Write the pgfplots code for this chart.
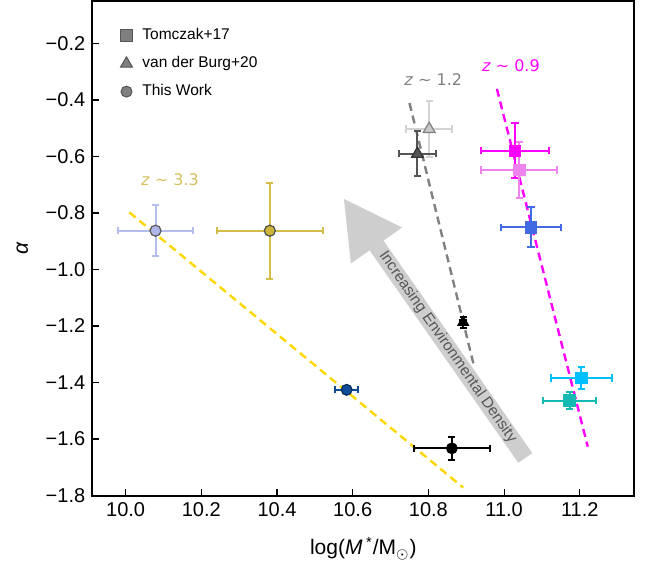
\documentclass[border=0pt]{standalone}
\usepackage{pgfplots}
\pgfplotsset{compat=1.18}
\usepackage{fontspec}
\setmainfont{Liberation Sans}
\newfontfamily\dejavu{DejaVu Sans}
\usetikzlibrary{arrows.meta}
\definecolor{mag}{HTML}{FF00FF}
\definecolor{vio}{HTML}{EE82EE}
\definecolor{royal}{HTML}{4169E1}
\definecolor{dsky}{HTML}{00BFFF}
\definecolor{tealc}{HTML}{12BAB2}
\definecolor{lgray}{HTML}{C8C8C8}
\definecolor{lgraybar}{HTML}{D2D2D2}
\definecolor{dgray}{HTML}{555555}
\definecolor{lav}{HTML}{AEB6EA}
\definecolor{lavbar}{HTML}{B5BCEE}
\definecolor{olivec}{HTML}{CDB53C}
\definecolor{olivebar}{HTML}{D3BD48}
\definecolor{navyc}{HTML}{0E4C97}
\definecolor{goldline}{HTML}{FFD700}
\definecolor{zgold}{HTML}{D6C060}
\definecolor{arrowg}{HTML}{CECECE}
\definecolor{legg}{HTML}{7F7F7F}
\definecolor{zgray}{HTML}{808080}
\pgfplotsset{
  errs/.style={only marks, forget plot,
    error bars/x dir=both, error bars/x explicit,
    error bars/y dir=both, error bars/y explicit,
    error bars/error mark=|,
    error bars/error bar style={line width=1pt},
    error bars/error mark options={line width=1pt, mark size=1.8pt}},
}
\begin{document}
\begin{tikzpicture}
\begin{axis}[
  scale only axis, width=271pt, height=247.25pt,
  xmin=9.912, xmax=11.344, ymin=-1.8, ymax=-0.05,
  axis line style={line width=1pt, black},
  tick align=inside, xtick pos=bottom, ytick pos=left,
  major tick length=3.5pt, tick style={line width=0.6pt, black},
  xtick={10,10.2,10.4,10.6,10.8,11,11.2},
  xticklabels={10.0,10.2,10.4,10.6,10.8,11.0,11.2},
  ytick={-1.8,-1.6,-1.4,-1.2,-1,-0.8,-0.6,-0.4,-0.2},
  yticklabels={−1.8,−1.6,−1.4,−1.2,−1.0,−0.8,−0.6,−0.4,−0.2},
  ticklabel style={font=\fontsize{10}{12}\selectfont},
  xlabel={log(\textit{M}\,\textsuperscript{*}/M\textsubscript{$\odot$})},
  ylabel={\textit{α}},
  label style={font=\fontsize{10.5}{12}\selectfont},
  xlabel style={at={(axis description cs:0.5,-0.107)}, anchor=center},
  ylabel style={at={(axis description cs:-0.129,0.5)}, anchor=center},
  legend cell align=left,
  legend style={draw=none, fill=none, at={(rel axis cs:0.0515,0.951)}, anchor=north west,
    inner sep=0pt, row sep=4pt, column sep=3.5pt, font=\fontsize{7.75}{9}\selectfont,
    nodes={inner sep=1.5pt, text height=5.6pt, text depth=1.4pt}},
]
% legend
\addlegendimage{only marks, mark=square*, mark size=2.9pt, mark options={fill=legg, draw=dgray, line width=0.5pt}}
\addlegendentry{Tomczak+17}
\addlegendimage{only marks, mark=triangle*, mark size=3.4pt, mark options={fill=legg, draw=dgray, line width=0.5pt}}
\addlegendentry{van der Burg+20}
\addlegendimage{only marks, mark=*, mark size=2.75pt, mark options={fill=legg, draw=dgray, line width=0.5pt}}
\addlegendentry{This Work}

% arrow
\draw[line width=8.5pt, color=arrowg, -{Triangle[length=29pt, width=29pt]}] (axis cs:11.056,-1.667) -- (axis cs:10.575,-0.747);
\node[rotate=-55.1, text=dgray, font=\fontsize{7.7}{9}\selectfont] at (axis cs:10.851,-1.275) {Increasing Environmental Density};

% fit lines
\addplot[forget plot, color=goldline, line width=1.2pt, dash pattern=on 4pt off 2.5pt] coordinates {(10.010,-0.798) (10.892,-1.772)};
\addplot[forget plot, color=zgray, line width=1.2pt, dash pattern=on 4pt off 2.5pt] coordinates {(10.750,-0.411) (10.919,-1.334)};
\addplot[forget plot, color=mag, line width=1.2pt, dash pattern=on 4pt off 2.5pt] coordinates {(10.981,-0.361) (11.221,-1.627)};

% Tomczak+17
\addplot[errs, color=mag, mark=square*, mark size=2.9pt, mark options={fill=mag, draw=mag}] coordinates {(11.029,-0.580) +- (0.09,0.098)};
\addplot[errs, color=vio, mark=square*, mark size=2.9pt, mark options={fill=vio, draw=vio}] coordinates {(11.040,-0.648) +- (0.10,0.10)};
\addplot[errs, color=royal, mark=square*, mark size=2.9pt, mark options={fill=royal, draw=royal}] coordinates {(11.071,-0.851) +- (0.08,0.071)};
\addplot[errs, color=dsky, mark=square*, mark size=2.9pt, mark options={fill=dsky, draw=dsky}] coordinates {(11.204,-1.384) +- (0.08,0.038)};
\addplot[errs, color=tealc, mark=square*, mark size=2.9pt, mark options={fill=tealc, draw=tealc}] coordinates {(11.173,-1.464) +- (0.07,0.03)};

% van der Burg+20
\addplot[errs, color=lgraybar, mark=triangle*, mark size=3.4pt, mark options={fill=lgray, draw=gray, line width=0.6pt}] coordinates {(10.802,-0.503) +- (0.06,0.10)};
\addplot[errs, color=dgray, mark=triangle*, mark size=3.4pt, mark options={fill=dgray, draw=black!80, line width=0.6pt}] coordinates {(10.771,-0.591) +- (0.05,0.08)};
\addplot[errs, color=black, mark=triangle*, mark size=3.2pt, mark options={fill=black, draw=black}] coordinates {(10.892,-1.187) +- (0.008,0.02)};

% This Work
\addplot[errs, color=lavbar, mark=*, mark size=2.75pt, mark options={fill=lav, draw=black!65, line width=0.6pt}] coordinates {(10.079,-0.863) +- (0.10,0.09)};
\addplot[errs, color=olivebar, mark=*, mark size=2.75pt, mark options={fill=olivec, draw=black!70, line width=0.6pt}] coordinates {(10.381,-0.863) +- (0.14,0.17)};
\addplot[errs, color=navyc, mark=*, mark size=2.7pt, mark options={fill=navyc, draw=navyc!60!black, line width=0.6pt}] coordinates {(10.584,-1.426) +- (0.03,0.01)};
\addplot[errs, color=black, mark=*, mark size=2.75pt, mark options={fill=black, draw=black}] coordinates {(10.862,-1.633) +- (0.10,0.04)};

% redshift labels
\node[text=zgold, font=\dejavu\fontsize{8}{9}\selectfont] at (axis cs:10.117,-0.683) {\textit{z} ∼ 3.3};
\node[text=zgray, font=\dejavu\fontsize{8}{9}\selectfont] at (axis cs:10.813,-0.329) {\textit{z} ∼ 1.2};
\node[text=mag, font=\dejavu\fontsize{8}{9}\selectfont] at (axis cs:11.018,-0.279) {\textit{z} ∼ 0.9};
\end{axis}
\pgfresetboundingbox
\useasboundingbox ([xshift=-46.15pt, yshift=-34pt]current axis.south west) rectangle ([xshift=8.35pt, yshift=0.5pt]current axis.north east);
\end{tikzpicture}
\end{document}
